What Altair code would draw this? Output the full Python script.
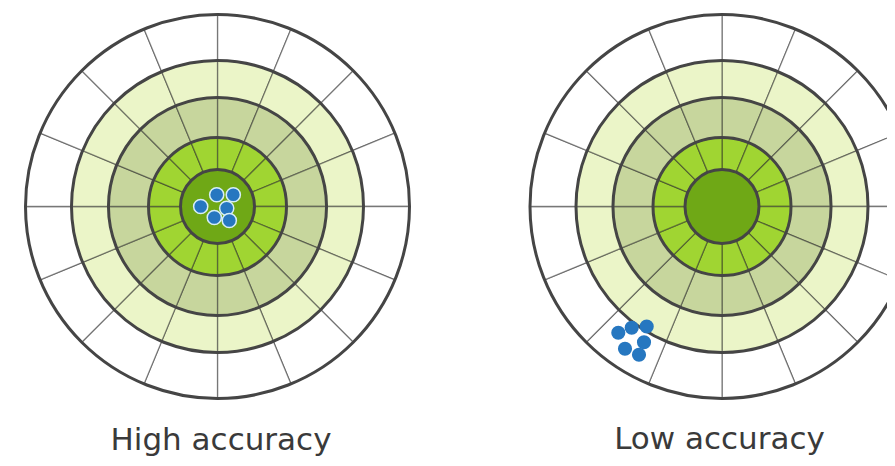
import math
import altair as alt
import pandas as pd

# ---- target geometry (units: 1 unit = 1 pixel of the target) ----
BAND_NAMES = ["bull", "inner", "middle", "outer", "edge"]
BAND_OUTER = [37, 69, 109, 146, 192]
BAND_COLORS = ["#6fa816", "#a0d532", "#c7d69d", "#ebf5c8", "#ffffff"]
SECTORS = 16
R_MAX = 192

# ---- titles and shot positions relative to each target centre ----
TITLES = ["High accuracy", "Low accuracy"]
HIGH_X = [-0.8, 15.8, -16.8, 9.2, -3.2, 11.8]
HIGH_Y = [11.7, 11.7, 0.0, -1.7, -11.0, -14.0]
LOW_X = [-103.7, -90.3, -75.3, -78.0, -97.0, -83.0]
LOW_Y = [-126.3, -121.3, -120.0, -135.7, -142.3, -148.3]

# ---- tables built from the lists ----
band_rows = []
inner = 0
for name, outer in zip(BAND_NAMES, BAND_OUTER):
    if inner == 0:
        band_rows.append(dict(cx=0, cy=0, band=name, t0=0, t1=360, r0=0, r1=outer))
    else:
        step = 360 / SECTORS
        for k in range(SECTORS):
            band_rows.append(dict(cx=0, cy=0, band=name, t0=k * step, t1=(k + 1) * step,
                                  r0=inner, r1=outer))
    inner = outer
bands_df = pd.DataFrame(band_rows)
circles_df = pd.DataFrame(dict(cx=0, cy=0, t0=0, t1=360, r1=BAND_OUTER))

Y_DOMAIN = [-197.5, 197.5]
H = 395


def panel(title, xs, ys, x_domain, width, dx, dot_stroke, dot_stroke_w, clip):
    xsc = alt.Scale(domain=x_domain, nice=False, zero=False)
    ysc = alt.Scale(domain=Y_DOMAIN, nice=False, zero=False)
    rsc = alt.Scale(type="linear", domain=[0, R_MAX], range=[0, R_MAX], zero=True, nice=False)
    tsc = alt.Scale(type="linear", domain=[0, 360], range=[0, 2 * math.pi], zero=True, nice=False)
    X = alt.X("cx:Q", scale=xsc, axis=None)
    Y = alt.Y("cy:Q", scale=ysc, axis=None)

    bands = alt.Chart(bands_df).mark_arc(
        stroke="#262626", strokeOpacity=0.5, strokeWidth=1.3, clip=clip
    ).encode(
        x=X, y=Y,
        theta=alt.Theta("t0:Q", scale=tsc, stack=None),
        theta2="t1:Q",
        radius=alt.Radius("r1:Q", scale=rsc, stack=None),
        radius2="r0:Q",
        color=alt.Color("band:N", scale=alt.Scale(domain=BAND_NAMES, range=BAND_COLORS),
                        legend=None),
    )
    circles = alt.Chart(circles_df).mark_arc(
        fillOpacity=0, stroke="#454545", strokeWidth=3, clip=clip
    ).encode(
        x=X, y=Y,
        theta=alt.Theta("t0:Q", scale=tsc, stack=None),
        theta2="t1:Q",
        radius=alt.Radius("r1:Q", scale=rsc, stack=None),
    )
    shots_df = pd.DataFrame(dict(cx=xs, cy=ys))
    shots = alt.Chart(shots_df).mark_circle(
        size=200, color="#2677c0", opacity=1, stroke=dot_stroke, strokeWidth=dot_stroke_w
    ).encode(x=X, y=Y)

    return alt.layer(bands, circles, shots).properties(
        width=width, height=H,
        title=alt.TitleParams(title, orient="bottom", anchor="middle", dx=dx, offset=21,
                              font="DejaVu Sans", fontSize=31, fontWeight="normal",
                              color="#3a3a3a"),
    )


left = panel(TITLES[0], HIGH_X, HIGH_Y, [-209.5, 210.5], 420, 3, "#d6eef8", 1.5, False)
right = panel(TITLES[1], LOW_X, LOW_Y, [-210, 165], 375, 20, "#ffffff", 0, True)

chart = alt.hconcat(left, right, spacing=84, bounds="flush").properties(
    padding=0, background="white"
).configure_view(stroke=None, fill="white")

chart.save("out.html", embed_options={"renderer": "svg", "actions": False})
